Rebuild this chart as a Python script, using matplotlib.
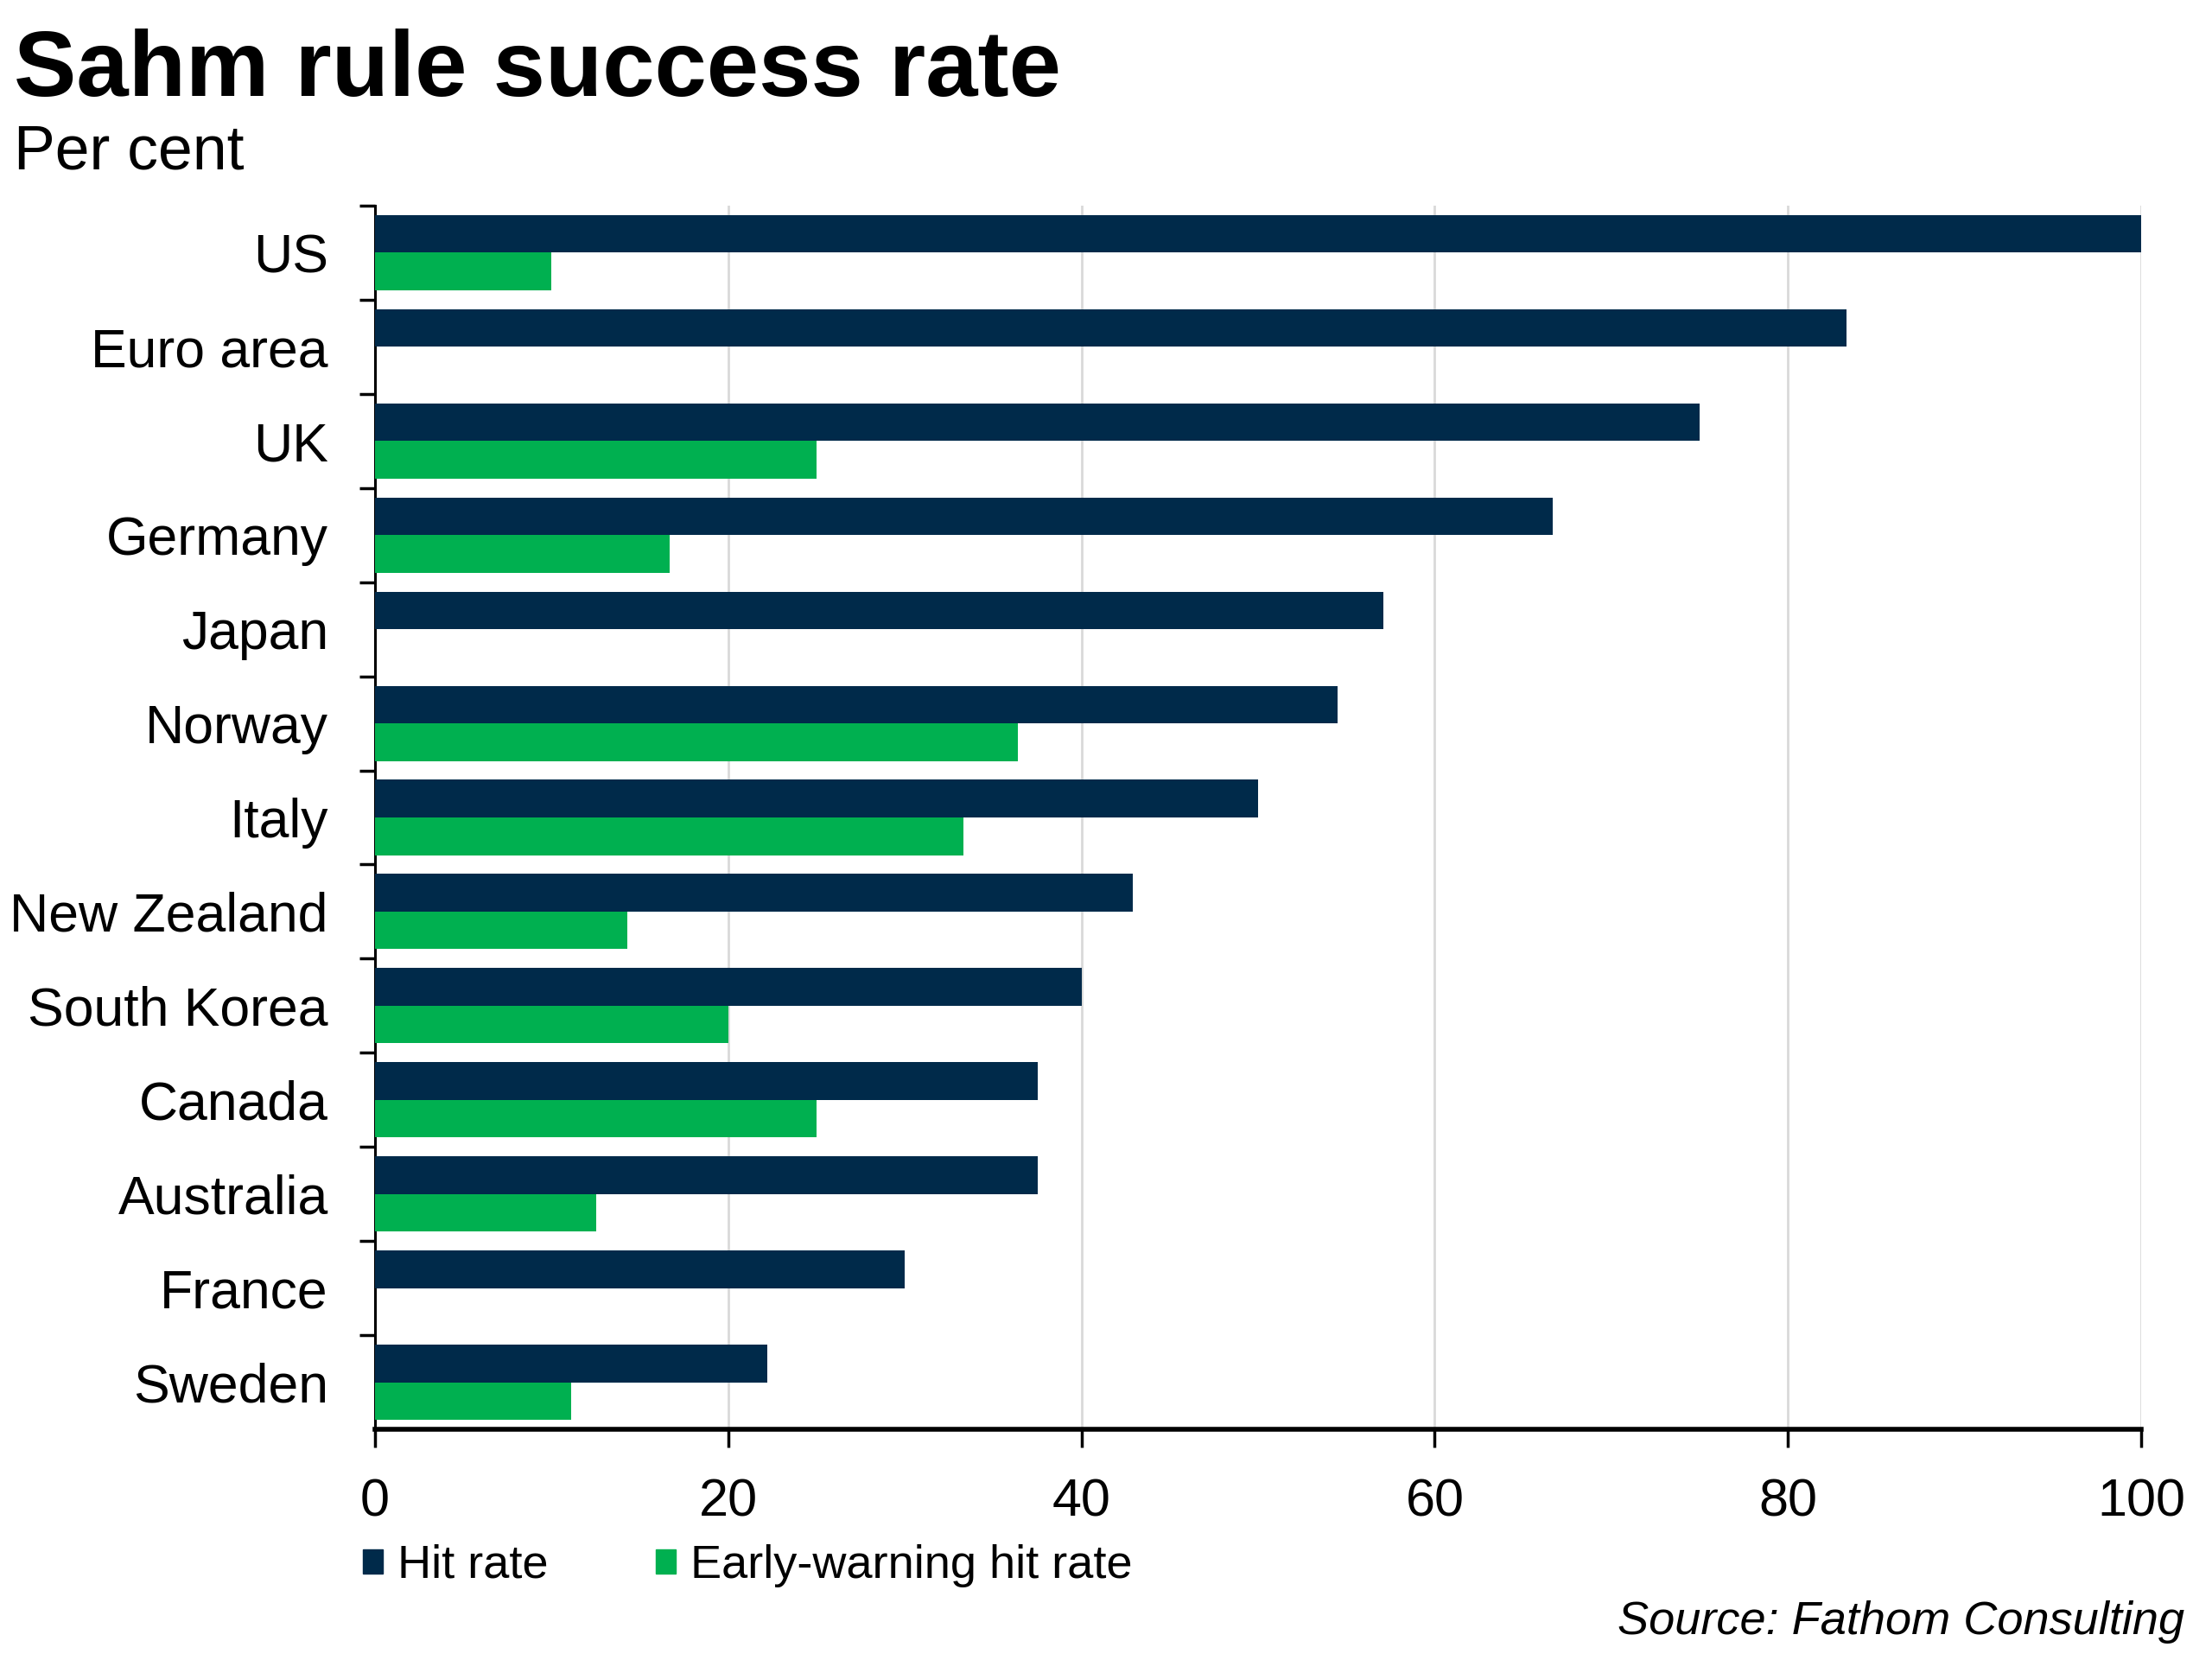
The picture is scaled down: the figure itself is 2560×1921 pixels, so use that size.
import matplotlib
matplotlib.use("Agg")
import matplotlib.pyplot as plt
from matplotlib.patches import Patch
import numpy as np

plt.rcParams["font.family"] = ["Liberation Sans", "DejaVu Sans"]

# Data (per cent)
countries = ["US", "Euro area", "UK", "Germany", "Japan", "Norway", "Italy",
             "New Zealand", "South Korea", "Canada", "Australia", "France", "Sweden"]
hit_rate = [100, 83.3, 75, 66.7, 57.1, 54.5, 50, 42.9, 40, 37.5, 37.5, 30, 22.2]
early_warning = [10, 0, 25, 16.7, 0, 36.4, 33.3, 14.3, 20, 25, 12.5, 0, 11.1]
x_ticks = [0, 20, 40, 60, 80, 100]

navy = "#002A4A"
green = "#00B050"

fig = plt.figure(figsize=(25.6, 19.21), dpi=100)
ax = fig.add_axes([434 / 2560, 1 - 1654 / 1921, (2478 - 434) / 2560, (1654 - 238) / 1921])

y = np.arange(len(countries))
ax.barh(y - 0.2, hit_rate, height=0.4, color=navy, zorder=3)
ax.barh(y + 0.2, early_warning, height=0.4, color=green, zorder=3)

ax.set_xlim(0, 100)
ax.set_ylim(len(countries) - 0.5, -0.5)
ax.set_xticks(x_ticks)
ax.set_xticklabels([str(t) for t in x_ticks])

# category labels at row centres, tick marks at row boundaries
ax.set_yticks(y)
ax.set_yticklabels(countries)
ax.set_yticks(np.arange(-0.5, len(countries) - 0.5, 1), minor=True)
ax.tick_params(axis="y", which="major", length=0, pad=39, labelsize=45)
ax.tick_params(axis="y", which="minor", length=13, width=2.5, direction="out")
ax.tick_params(axis="x", which="major", length=15, width=2.5, direction="out",
               pad=26, labelsize=44)

ax.grid(axis="x", color="#D9D9D9", linewidth=2, zorder=0)
for s in ["top", "right"]:
    ax.spines[s].set_visible(False)
ax.spines["left"].set_linewidth(2.2)
ax.spines["bottom"].set_linewidth(4)
ax.spines["bottom"].set_zorder(4)

fig.text(16 / 2560, 1 - 111 / 1921, "Sahm rule success rate", fontsize=78,
         fontweight="bold", ha="left", va="baseline")
fig.text(16 / 2560, 1 - 196 / 1921, "Per cent", fontsize=51.5,
         ha="left", va="baseline")

handles = [Patch(color=navy, label="Hit rate"),
           Patch(color=green, label="Early-warning hit rate")]
fig.legend(handles=handles, loc="center left",
           bbox_to_anchor=(420 / 2560, 1 - 1812 / 1921), ncol=2, frameon=False,
           fontsize=39, handlelength=0.42, handleheight=0.42, handletextpad=0.32,
           columnspacing=2.3, borderpad=0, borderaxespad=0)

fig.text(2528 / 2560, 1 - 1891 / 1921, "Source: Fathom Consulting", fontsize=39,
         style="italic", ha="right", va="baseline")

fig.savefig("out.png", dpi=100, facecolor="white")
